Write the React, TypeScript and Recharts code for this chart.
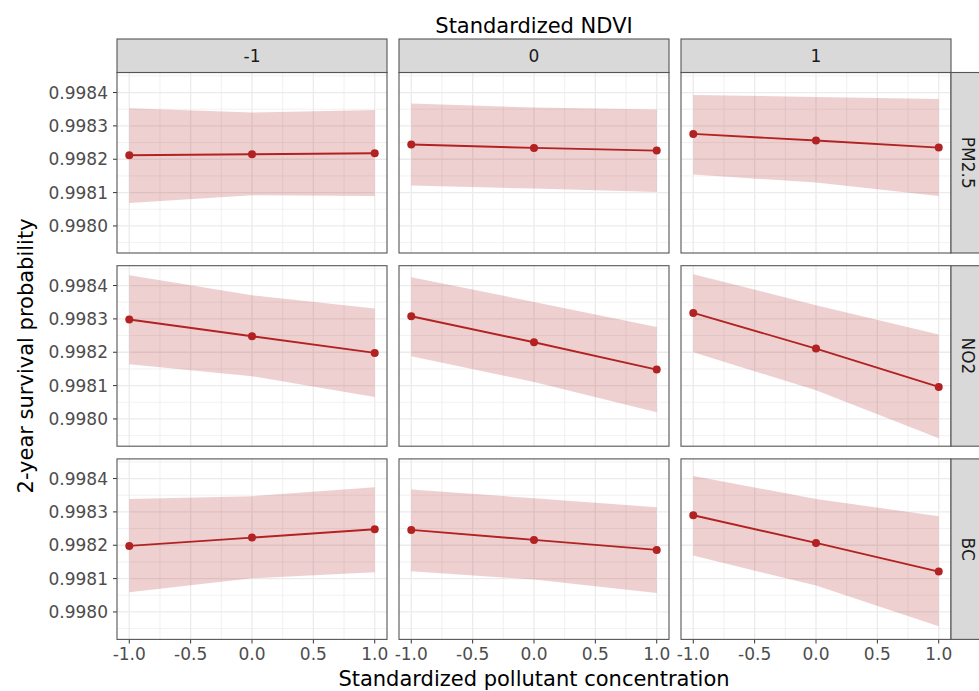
import React from "react";
import { ComposedChart, Area, Line, XAxis, YAxis, CartesianGrid } from "recharts";

// ---- categories / ticks ----
const xValues = [-1, 0, 1];
const ndviLevels = ["-1", "0", "1"];
const pollutants = ["PM2.5", "NO2", "BC"];
const xTicks = [-1, -0.5, 0, 0.5, 1];
const xMinorTicks = [-0.75, -0.25, 0.25, 0.75];
const yTicks = [0.998, 0.9981, 0.9982, 0.9983, 0.9984];
const yMinorTicks = [0.99795, 0.99805, 0.99815, 0.99825, 0.99835, 0.99845];

// ---- series values: one row per NDVI level (-1, 0, 1), points at x = -1, 0, 1 ----
const pm25Estimate = [
  [0.998212, 0.998215, 0.998218],
  [0.998244, 0.998234, 0.998226],
  [0.998276, 0.998256, 0.998235],
];
const pm25Lower = [
  [0.998069, 0.998092, 0.99809],
  [0.998121, 0.998112, 0.998102],
  [0.998154, 0.99813, 0.99809],
];
const pm25Upper = [
  [0.998353, 0.99834, 0.998348],
  [0.998367, 0.998355, 0.998349],
  [0.998393, 0.998387, 0.998381],
];

const no2Estimate = [
  [0.998298, 0.998248, 0.998198],
  [0.998308, 0.99823, 0.998148],
  [0.998318, 0.998211, 0.998096],
];
const no2Lower = [
  [0.998164, 0.998128, 0.998066],
  [0.998188, 0.998111, 0.99802],
  [0.9982, 0.998086, 0.997942],
];
const no2Upper = [
  [0.998431, 0.998371, 0.998331],
  [0.998425, 0.998351, 0.998276],
  [0.998434, 0.998341, 0.998253],
];

const bcEstimate = [
  [0.998198, 0.998223, 0.998248],
  [0.998246, 0.998216, 0.998186],
  [0.99829, 0.998207, 0.998121],
];
const bcLower = [
  [0.998059, 0.998101, 0.998119],
  [0.998122, 0.998097, 0.998057],
  [0.998169, 0.998079, 0.997957],
];
const bcUpper = [
  [0.998339, 0.998347, 0.998374],
  [0.998367, 0.998341, 0.998314],
  [0.998408, 0.998339, 0.998287],
];

const estimates = [pm25Estimate, no2Estimate, bcEstimate];
const lowers = [pm25Lower, no2Lower, bcLower];
const uppers = [pm25Upper, no2Upper, bcUpper];

// shared y scale with 5% expansion (like ggplot)
const allVals = [...lowers.flat(2), ...uppers.flat(2)];
const dMin = Math.min(...allVals);
const dMax = Math.max(...allVals);
const pad = (dMax - dMin) * 0.05;
const yDomain: [number, number] = [dMin - pad, dMax + pad];

// ---- layout ----
const colX = [117, 399, 681];
const panelW = 270;
const rowY = [72.5, 265.7, 458.9];
const panelH = 180.5;
const stripTop = 39;
const stripH = 33.5;
const rightStripX = 951;
const xAxisH = 45;
const sidePad = 24;

const RED = "#B22222";
const FONT = "'DejaVu Sans', Verdana, sans-serif";

function Panel({ row, col }: { row: number; col: number }) {
  const data = xValues.map((x, i) => ({
    x,
    est: estimates[row][col][i],
    band: [lowers[row][col][i], uppers[row][col][i]],
  }));
  const showY = col === 0;
  const showX = row === 2;
  const padL = showX && !showY ? sidePad : 0;
  const padR = showX ? sidePad : 0;
  const left = showY ? 0 : colX[col] - padL;
  const width = panelW + (showY ? colX[0] : 0) + padL + padR;
  const height = panelH + (showX ? xAxisH : 0);
  return (
    <div style={{ position: "absolute", left, top: rowY[row] }}>
      <ComposedChart
        width={width}
        height={height}
        data={data}
        margin={{ top: 0, right: padR, bottom: 0, left: padL }}
      >
        <CartesianGrid
          stroke="#EBEBEB"
          strokeWidth={0.7}
          horizontalValues={yMinorTicks}
          verticalValues={xMinorTicks}
        />
        <CartesianGrid
          stroke="#EBEBEB"
          strokeWidth={1.3}
          horizontalValues={yTicks}
          verticalValues={xTicks}
        />
        <XAxis
          type="number"
          dataKey="x"
          domain={[-1.1, 1.1]}
          ticks={xTicks}
          interval={0}
          allowDataOverflow
          hide={!showX}
          height={xAxisH}
          axisLine={false}
          tickLine={{ stroke: "#333333" }}
          tickSize={4}
          tickMargin={4}
          tick={{ fill: "#4D4D4D", fontSize: 17, fontFamily: FONT }}
          tickFormatter={(v: number) => v.toFixed(1)}
        />
        <YAxis
          type="number"
          domain={yDomain}
          ticks={yTicks}
          interval={0}
          allowDataOverflow
          hide={!showY}
          width={colX[0]}
          axisLine={false}
          tickLine={{ stroke: "#333333" }}
          tickSize={4}
          tickMargin={5}
          tick={{ fill: "#4D4D4D", fontSize: 17, fontFamily: FONT }}
          tickFormatter={(v: number) => v.toFixed(4)}
        />
        <Area
          type="linear"
          dataKey="band"
          stroke="none"
          fill={RED}
          fillOpacity={0.21}
          isAnimationActive={false}
          activeDot={false}
        />
        <Line
          type="linear"
          dataKey="est"
          stroke={RED}
          strokeWidth={1.9}
          dot={{ r: 4, fill: RED, stroke: RED, strokeWidth: 0 }}
          activeDot={false}
          isAnimationActive={false}
        />
      </ComposedChart>
    </div>
  );
}

export default function App() {
  const panels: React.ReactNode[] = [];
  for (let r = 0; r < 3; r++) {
    for (let c = 0; c < 3; c++) {
      panels.push(<Panel key={`${r}-${c}`} row={r} col={c} />);
    }
  }
  const plotCenterX = (colX[0] + colX[2] + panelW) / 2;
  const plotCenterY = (rowY[0] + rowY[2] + panelH) / 2;
  return (
    <div
      style={{
        position: "absolute",
        left: 0,
        top: 0,
        width: 979,
        height: 691,
        overflow: "hidden",
        background: "#ffffff",
        fontFamily: FONT,
      }}
    >
      {panels}
      <svg
        width={979}
        height={691}
        style={{ position: "absolute", left: 0, top: 0, pointerEvents: "none" }}
      >
        {/* panel borders */}
        {rowY.map((y, r) =>
          colX.map((x, c) => (
            <rect
              key={`b${r}${c}`}
              x={x}
              y={y}
              width={panelW}
              height={panelH}
              fill="none"
              stroke="#555555"
              strokeWidth={1.1}
            />
          ))
        )}
        {/* top strips */}
        {colX.map((x, c) => (
          <g key={`ts${c}`}>
            <rect
              x={x}
              y={stripTop}
              width={panelW}
              height={stripH}
              fill="#D9D9D9"
              stroke="#555555"
              strokeWidth={1.1}
            />
            <text
              x={x + panelW / 2}
              y={62.3}
              textAnchor="middle"
              fontSize={17}
              fontFamily={FONT}
              fill="#1A1A1A"
            >
              {ndviLevels[c]}
            </text>
          </g>
        ))}
        {/* right strips */}
        {rowY.map((y, r) => (
          <g key={`rs${r}`}>
            <rect
              x={rightStripX}
              y={y}
              width={40}
              height={panelH}
              fill="#D9D9D9"
              stroke="#555555"
              strokeWidth={1.1}
            />
            <text
              x={961.7}
              y={y + panelH / 2}
              transform={`rotate(90 961.7 ${y + panelH / 2})`}
              textAnchor="middle"
              fontSize={17}
              fontFamily={FONT}
              fill="#1A1A1A"
            >
              {pollutants[r]}
            </text>
          </g>
        ))}
        {/* titles */}
        <text
          x={plotCenterX}
          y={32.5}
          textAnchor="middle"
          fontSize={21}
          fontFamily={FONT}
          fill="#000000"
        >
          Standardized NDVI
        </text>
        <text
          x={plotCenterX}
          y={686}
          textAnchor="middle"
          fontSize={21}
          fontFamily={FONT}
          fill="#000000"
        >
          Standardized pollutant concentration
        </text>
        <text
          x={33.3}
          y={plotCenterY}
          transform={`rotate(-90 33.3 ${plotCenterY})`}
          textAnchor="middle"
          fontSize={21}
          fontFamily={FONT}
          fill="#000000"
        >
          2-year survival probability
        </text>
      </svg>
    </div>
  );
}
